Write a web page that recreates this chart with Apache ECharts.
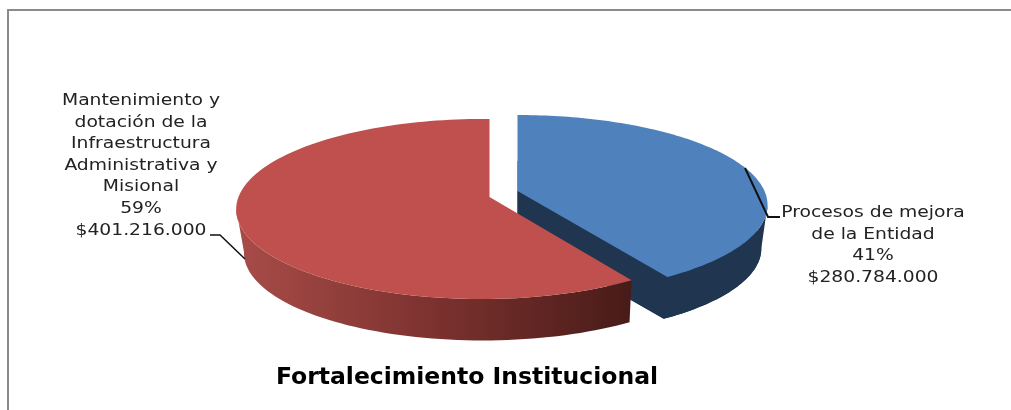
<!DOCTYPE html>
<html>
<head>
<meta charset="utf-8">
<style>html,body{margin:0;padding:0;background:#fff}#c{width:1011px;height:410px}</style>
<script src="https://cdn.jsdelivr.net/npm/echarts@6/dist/echarts.min.js"></script>
</head>
<body>
<div id="c"></div>
<script>
var titleText = 'Fortalecimiento Institucional';
var categories = ['Procesos de mejora\nde la Entidad', 'Mantenimiento y\ndotación de la\nInfraestructura\nAdministrativa y\nMisional'];
var amounts = [280784000, 401216000];
var amountLabels = ['$280.784.000', '$401.216.000'];
var percentLabels = ['41%', '59%'];

var total = amounts.reduce(function (a, b) { return a + b; }, 0);
var DEPTH = 44, LOWER_SCALE = 0.975;
// perspective projection of each exploded slice: x0,y0 apex, c,b radii, a,e perspective
var layouts = [
  { x0: 517.5, y0: 191, c: 247, b: 87.8, a: 0.1556, e: 0, lowerDx: 0, labelX: 873, labelY: 202, sx: 1.17, lw: 2,
    leader: [[745, 168], [768, 217], [780, 217]] },
  { x0: 489.5, y0: 197, c: 243.5, b: 88.4, a: 0.133, e: 0.03, lowerDx: 1.5, labelX: 141, labelY: 90, sx: 1.17, lw: 1.5,
    leader: [[210, 235], [220, 235], [245, 259]] }
];
var topColors = ['#4F81BD', '#C0504D'];
var FONT = '"DejaVu Sans"';

function project(L, theta, lower) {
  var u = Math.sin(theta), v = Math.cos(theta);
  var w = 1 + L.a * v + L.e * u;
  var s = lower ? LOWER_SCALE : 1;
  return [L.x0 + (lower ? L.lowerDx : 0) + s * L.c * u / w, L.y0 + (lower ? DEPTH : 0) - s * L.b * v / w];
}
function arc(L, t0, t1, lower) {
  var pts = [], n = 120;
  for (var i = 0; i <= n; i++) pts.push(project(L, t0 + (t1 - t0) * i / n, lower));
  return pts;
}
function poly(points, fill) {
  return { type: 'polygon', shape: { points: points }, style: { fill: fill, stroke: null } };
}
// index of the silhouette point: rightmost for the right slice, leftmost for the left slice
function extremeIndex(pts, right) {
  var best = 0;
  pts.forEach(function (p, i) {
    if (right ? p[0] > pts[best][0] : p[0] < pts[best][0]) best = i;
  });
  return best;
}
function renderSlice(params, api) {
  var idx = params.dataIndex, L = layouts[idx];
  var before = 0;
  for (var i = 0; i < idx; i++) before += amounts[i];
  var t0 = before / total * 2 * Math.PI;
  var t1 = (before + api.value(0)) / total * 2 * Math.PI;
  var topArc = arc(L, t0, t1, false), lowArc = arc(L, t0, t1, true);
  var apexTop = [L.x0, L.y0], apexLow = [L.x0 + L.lowerDx, L.y0 + DEPTH];
  var wallFill = idx === 0 ? '#1F3550' : new echarts.graphic.LinearGradient(0, 0, 1, 0, [
    { offset: 0, color: '#A84C48' },
    { offset: 0.5, color: '#7C322F' },
    { offset: 1, color: '#481B18' }
  ]);
  var children = [];
  var iT = extremeIndex(topArc, idx === 0), iL = extremeIndex(lowArc, idx === 0);
  var wallTop = idx === 0 ? topArc.slice(iT) : topArc.slice(0, iT + 1);
  var wallLow = idx === 0 ? lowArc.slice(iL) : lowArc.slice(0, iL + 1);
  children.push(poly(wallTop.concat(wallLow.slice().reverse()), wallFill));
  if (idx === 0) {
    children.push(poly([apexLow].concat(lowArc), wallFill));
    var eT = topArc[topArc.length - 1], eL = lowArc[lowArc.length - 1];
    children.push(poly([apexTop, eT, eL, apexLow], wallFill));
  }
  children.push(poly([apexTop].concat(topArc), topColors[idx]));
  children.push({
    type: 'polyline', shape: { points: L.leader },
    style: { stroke: '#111', lineWidth: L.lw, fill: null }
  });
  children.push({
    type: 'text', x: L.labelX, y: L.labelY, scaleX: L.sx,
    style: {
      text: categories[idx] + '\n' + percentLabels[idx] + '\n' + amountLabels[idx],
      fontFamily: FONT, fontSize: 16, lineHeight: 21.6,
      fill: '#222', align: 'center', verticalAlign: 'top'
    }
  });
  return { type: 'group', children: children };
}

var chart = echarts.init(document.getElementById('c'), null, { renderer: 'canvas' });
chart.setOption({
  animation: false,
  backgroundColor: '#fff',
  title: {
    text: titleText, left: 462, top: 361, textAlign: 'center',
    textStyle: { fontFamily: FONT, fontSize: 23.5, fontWeight: 'bold', color: '#000' }
  },
  graphic: [{
    type: 'polyline', silent: true,
    shape: { points: [[8, 410], [8, 10], [1011, 10]] },
    style: { stroke: '#8A8A8A', lineWidth: 2, fill: null }
  }],
  series: [{
    type: 'custom',
    coordinateSystem: 'none',
    silent: true,
    renderItem: renderSlice,
    data: amounts.map(function (v, i) { return { name: categories[i], value: [v] }; })
  }]
});
</script>
</body>
</html>
